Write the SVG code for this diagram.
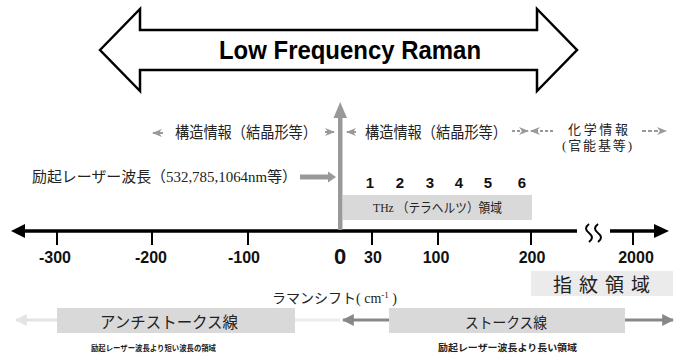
<svg xmlns="http://www.w3.org/2000/svg" width="683" height="356" viewBox="0 0 683 356">
<style>
.jp{font-family:"Liberation Serif","Noto Sans CJK JP",serif;fill:#222}
.num{font-family:"Liberation Sans",Arial,sans-serif;font-weight:bold;fill:#111;text-anchor:middle}
.box{fill:#d9d9d9}
.g{stroke:#999;fill:none}
</style>
<defs>
<marker id="ga" viewBox="0 0 10 10" refX="9" refY="5" markerWidth="5" markerHeight="5" orient="auto-start-reverse"><path d="M0,1 L10,5 L0,9 L3,5 z" fill="#999"/></marker>
<marker id="da" viewBox="0 0 10 10" refX="9" refY="5" markerWidth="4" markerHeight="4" orient="auto-start-reverse"><path d="M0,0 L10,5 L0,10 z" fill="#888"/></marker>
<marker id="fa" viewBox="0 0 10 10" refX="9" refY="5" markerWidth="4" markerHeight="4" orient="auto-start-reverse"><path d="M0,0 L10,5 L0,10 z" fill="#e4e4e4"/></marker>
</defs>
<rect width="683" height="356" fill="#fff"/>

<g id="lfr">
<polygon points="100,50 140,9 140,30 537,30 537,9 577,50 537,91 537,70 140,70 140,91" fill="#fff" stroke="#000" stroke-width="2.5" stroke-linejoin="miter"/>
<text x="350" y="59" font-family="Liberation Sans,Arial,sans-serif" font-weight="bold" font-size="25" text-anchor="middle" fill="#000" textLength="262" lengthAdjust="spacingAndGlyphs">Low Frequency Raman</text>
</g>

<g id="boxes">
<rect id="thz" class="box" x="343" y="195" width="189" height="25"/>
<rect id="fp" x="531" y="271" width="142" height="25" fill="#ebebeb"/>
<rect id="as" class="box" x="57" y="308" width="238" height="25"/>
<rect id="st" class="box" x="389" y="308" width="236" height="25"/>
</g>

<g id="connectors">
<line x1="20" y1="231" x2="577" y2="231" stroke="#000" stroke-width="3.5"/>
<polygon points="11,231 25,224 25,238" fill="#000"/>
<line x1="610" y1="231" x2="656" y2="231" stroke="#000" stroke-width="3.5"/>
<polygon points="669,231 654,224 654,238" fill="#000"/>
<path d="M589,224 c-4,3 -4,6 0,9 s4,6 0,9 M598,224 c-4,3 -4,6 0,9 s4,6 0,9" fill="none" stroke="#000" stroke-width="2"/>
<g stroke="#000" stroke-width="2">
<line x1="57" y1="231" x2="57" y2="245"/><line x1="152" y1="231" x2="152" y2="245"/><line x1="248" y1="231" x2="248" y2="245"/>
<line x1="372" y1="231" x2="372" y2="245"/><line x1="438" y1="231" x2="438" y2="245"/><line x1="531" y1="231" x2="531" y2="245"/><line x1="633" y1="231" x2="633" y2="245"/>
</g>
<rect x="338" y="116" width="4.5" height="114" fill="#999"/>
<polygon points="340.2,102 333.5,118 347,118" fill="#999"/>
<rect x="300" y="174.5" width="30" height="5" fill="#999"/>
<polygon points="336,177 328,171.5 328,182.5" fill="#999"/>
<line x1="163" y1="133" x2="153" y2="133" class="g" stroke-width="2" marker-end="url(#ga)"/>
<line x1="325" y1="132" x2="334" y2="132" class="g" stroke-width="2" marker-end="url(#ga)"/>
<line x1="356" y1="132" x2="347" y2="132" class="g" stroke-width="2" marker-end="url(#ga)"/>
<line x1="512" y1="131" x2="528" y2="131" class="g" stroke-width="2" stroke-dasharray="3,2" marker-end="url(#ga)"/>
<line x1="553" y1="131" x2="531" y2="131" class="g" stroke-width="2" stroke-dasharray="3,2" marker-end="url(#ga)"/>
<line x1="642" y1="131" x2="666" y2="131" class="g" stroke-width="2" stroke-dasharray="4,2" marker-end="url(#ga)"/>
<line x1="57" y1="320" x2="16" y2="320" stroke="#e4e4e4" stroke-width="3" marker-end="url(#fa)"/>
<line x1="295" y1="320" x2="340" y2="320" stroke="#ececec" stroke-width="3"/>
<line x1="389" y1="320" x2="343" y2="320" stroke="#888" stroke-width="3" marker-end="url(#da)"/>
<line x1="625" y1="320" x2="673" y2="320" stroke="#888" stroke-width="3" marker-end="url(#da)"/>
</g>

<g id="labels">
<text class="jp" x="175" y="138" font-size="16" textLength="142" lengthAdjust="spacingAndGlyphs">構造情報（結晶形等）</text>
<text class="jp" x="365" y="138" font-size="16" textLength="142" lengthAdjust="spacingAndGlyphs">構造情報（結晶形等）</text>
<text class="jp" x="568" y="134" font-size="13" textLength="60" lengthAdjust="spacing">化学情報</text>
<text class="jp" x="562" y="150" font-size="13" textLength="70" lengthAdjust="spacing">(官能基等)</text>
<text class="jp" x="32" y="182" font-size="15" textLength="265" lengthAdjust="spacingAndGlyphs">励起レーザー波長（532,785,1064nm等）</text>
<text class="jp" x="373" y="212" font-size="13" textLength="129" lengthAdjust="spacingAndGlyphs">THz （テラヘルツ）領域</text>
<text class="jp" x="553" y="292" font-size="19" letter-spacing="7">指紋領域</text>
<text class="jp" x="272" y="303" font-size="14">ラマンシフト( cm<tspan font-size="9" dy="-5">-1</tspan><tspan dy="5"> )</tspan></text>
<text class="jp" x="100" y="328" font-size="16" textLength="138" lengthAdjust="spacingAndGlyphs">アンチストークス線</text>
<text class="jp" x="465" y="328" font-size="15" textLength="82" lengthAdjust="spacingAndGlyphs">ストークス線</text>
<text class="jp" x="91" y="351" font-size="8" font-weight="bold" textLength="125" lengthAdjust="spacingAndGlyphs">励起レーザー波長より短い波長の領域</text>
<text class="jp" x="438" y="351" font-size="9.5" font-weight="bold" textLength="139" lengthAdjust="spacingAndGlyphs">励起レーザー波長より長い領域</text>
</g>

<g id="numbers">
<g font-size="15">
<text class="num" x="370" y="188">1</text><text class="num" x="400" y="188">2</text><text class="num" x="430" y="188">3</text>
<text class="num" x="459" y="188">4</text><text class="num" x="488" y="188">5</text><text class="num" x="522" y="188">6</text>
</g>
<g font-size="16">
<text class="num" x="55" y="263">-300</text><text class="num" x="151" y="263">-200</text><text class="num" x="244" y="263">-100</text>
<text class="num" x="373" y="263">30</text><text class="num" x="436" y="263">100</text><text class="num" x="532" y="263">200</text><text class="num" x="636" y="263">2000</text>
</g>
<text class="num" x="340" y="264" font-size="22">0</text>
</g>
</svg>
